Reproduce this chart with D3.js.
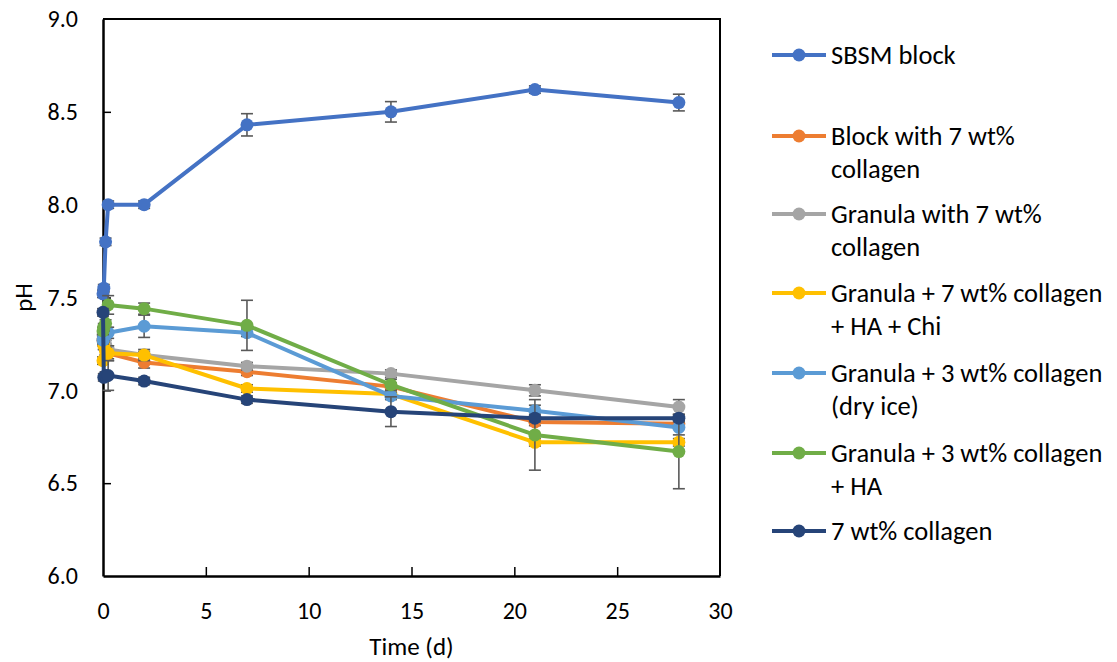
<!DOCTYPE html>
<html>
<head>
<meta charset="utf-8">
<script src="https://cdn.jsdelivr.net/npm/d3@7"></script>
<style>
  html, body { margin: 0; padding: 0; background: #fff; }
  svg { display: block; }
  text { font-family: Carlito, Calibri, Lato, "Open Sans", sans-serif; fill: #000; }
</style>
</head>
<body>
<svg id="chart" width="1117" height="662"></svg>
<script>
// Sampling times in days (0 h, 1 h, 3 h, 6 h, then days)
const times = [0, 0.04, 0.125, 0.25, 2, 7, 14, 21, 28];

// pH readings per formulation, with standard deviations
const sbsmBlock      = [7.52, 7.55, 7.80, 8.00, 8.00, 8.43, 8.50, 8.62, 8.55];
const sbsmBlockSd    = [0.02, 0.02, 0.02, 0.02, 0.02, 0.06, 0.055, 0.02, 0.045];
const blockCol7      = [7.27, 7.25, 7.22, 7.20, 7.15, 7.10, 7.02, 6.83, 6.82];
const blockCol7Sd    = [0.03, 0.03, 0.03, 0.03, 0.03, 0.02, 0.02, 0.02, 0.02];
const granCol7       = [7.30, 7.28, 7.25, 7.22, 7.19, 7.13, 7.09, 7.00, 6.91];
const granCol7Sd     = [0.02, 0.02, 0.02, 0.02, 0.02, 0.02, 0.02, 0.03, 0.04];
const granCol7HaChi  = [7.16, 7.24, 7.21, 7.20, 7.19, 7.01, 6.98, 6.72, 6.72];
const granCol7HaChiSd= [0.02, 0.02, 0.02, 0.04, 0.03, 0.02, 0.02, 0.02, 0.02];
const granCol3Dry    = [7.27, 7.29, 7.30, 7.31, 7.345, 7.31, 6.97, 6.89, 6.80];
const granCol3DrySd  = [0.02, 0.02, 0.02, 0.03, 0.06, 0.02, 0.02, 0.03, 0.04];
const granCol3Ha     = [7.32, 7.34, 7.36, 7.46, 7.44, 7.35, 7.03, 6.76, 6.67];
const granCol3HaSd   = [0.02, 0.02, 0.02, 0.05, 0.03, 0.135, 0.03, 0.19, 0.20];
const col7           = [7.42, 7.07, 7.08, 7.08, 7.05, 6.95, 6.885, 6.85, 6.85];
const col7Sd         = [0.02, 0.02, 0.02, 0.08, 0.02, 0.02, 0.08, 0.02, 0.02];

const seriesNames = [
  ["SBSM block"],
  ["Block with 7 wt%", "collagen"],
  ["Granula with 7 wt%", "collagen"],
  ["Granula + 7 wt% collagen", "+ HA + Chi"],
  ["Granula + 3 wt% collagen", "(dry ice)"],
  ["Granula + 3 wt% collagen", "+ HA"],
  ["7 wt% collagen"]
];
const seriesValues = [sbsmBlock, blockCol7, granCol7, granCol7HaChi, granCol3Dry, granCol3Ha, col7];
const seriesSd = [sbsmBlockSd, blockCol7Sd, granCol7Sd, granCol7HaChiSd, granCol3DrySd, granCol3HaSd, col7Sd];
const seriesColors = ["#4472C4", "#ED7D31", "#A5A5A5", "#FFC000", "#5B9BD5", "#70AD47", "#264478"];

const xTicks = [0, 5, 10, 15, 20, 25, 30];
const yTicks = [6.0, 6.5, 7.0, 7.5, 8.0, 8.5, 9.0];

const svg = d3.select("#chart");
const plot = { left: 103, right: 720, top: 19, bottom: 576 };

const x = d3.scaleLinear().domain([0, 30]).range([plot.left, plot.right]);
const y = d3.scaleLinear().domain([6, 9]).range([plot.bottom, plot.top]);

const series = seriesValues.map((vals, i) => ({
  name: seriesNames[i],
  color: seriesColors[i],
  points: vals.map((v, j) => ({ t: times[j], v: v, sd: seriesSd[i][j] }))
}));

// Plot-area frame (top and right edges)
svg.append("path")
  .attr("d", `M${plot.left},${plot.top}H${plot.right}V${plot.bottom}`)
  .attr("fill", "none").attr("stroke", "#000").attr("stroke-width", 2);

// Axes with inward ticks
const yAxis = d3.axisLeft(y).tickValues(yTicks).tickFormat(d3.format(".1f"))
  .tickSizeInner(-8).tickSizeOuter(0).tickPadding(25);
const xAxis = d3.axisBottom(x).tickValues(xTicks).tickFormat(d3.format("d"))
  .tickSizeInner(-9).tickSizeOuter(0).tickPadding(26);

const gy = svg.append("g").attr("transform", `translate(${plot.left},0)`).call(yAxis);
const gx = svg.append("g").attr("transform", `translate(0,${plot.bottom})`).call(xAxis);
[gx, gy].forEach(g => {
  g.select(".domain").attr("stroke", "#000").attr("stroke-width", 2.5);
  g.selectAll(".tick line").attr("stroke", "#000").attr("stroke-width", 1.5);
  g.selectAll(".tick text").style("font-size", "24px").attr("fill", "#000");
});
gx.selectAll(".tick").filter(d => d === 0 || d === 30).select("line").remove();
gy.selectAll(".tick").filter(d => d === 6 || d === 9).select("line").remove();

// Axis titles
svg.append("text").attr("x", (plot.left + plot.right) / 2).attr("y", 646)
  .attr("text-anchor", "middle").attr("dy", "0.35em")
  .style("font-size", "25px").text("Time (d)");
svg.append("text").attr("transform", `translate(23,${(plot.top + plot.bottom) / 2}) rotate(-90)`)
  .attr("text-anchor", "middle").attr("dy", "0.35em")
  .style("font-size", "25px").text("pH");

const line = d3.line().x(d => x(d.t)).y(d => y(d.v));

// Series: error bars, connecting line, markers
series.forEach(s => {
  const g = svg.append("g");
  const eb = g.selectAll("g.err").data(s.points).join("g").attr("class", "err")
    .attr("stroke", "#595959").attr("stroke-width", 1.6);
  eb.append("line")
    .attr("x1", d => x(d.t)).attr("x2", d => x(d.t))
    .attr("y1", d => y(d.v - d.sd)).attr("y2", d => y(d.v + d.sd));
  eb.append("line")
    .attr("x1", d => x(d.t) - 6).attr("x2", d => x(d.t) + 6)
    .attr("y1", d => y(d.v - d.sd)).attr("y2", d => y(d.v - d.sd));
  eb.append("line")
    .attr("x1", d => x(d.t) - 6).attr("x2", d => x(d.t) + 6)
    .attr("y1", d => y(d.v + d.sd)).attr("y2", d => y(d.v + d.sd));

  g.append("path").datum(s.points).attr("d", line)
    .attr("fill", "none").attr("stroke", s.color).attr("stroke-width", 4)
    .attr("stroke-linejoin", "round");
  g.selectAll("circle").data(s.points).join("circle")
    .attr("cx", d => x(d.t)).attr("cy", d => y(d.v)).attr("r", 6.5)
    .attr("fill", s.color);
});

// Legend
const legendRows = [55, 136, 214, 293, 373, 453, 531];
const legend = svg.append("g");
series.forEach((s, i) => {
  const g = legend.append("g").attr("transform", `translate(0,${legendRows[i]})`);
  g.append("line").attr("x1", 772).attr("x2", 826).attr("y1", 0).attr("y2", 0)
    .attr("stroke", s.color).attr("stroke-width", 4);
  g.append("circle").attr("cx", 799).attr("cy", 0).attr("r", 6.5).attr("fill", s.color);
  s.name.forEach((ln, k) => {
    g.append("text").attr("x", 831).attr("y", k * 33).attr("dy", "0.35em")
      .style("font-size", "26.5px").text(ln);
  });
});
</script>
</body>
</html>
